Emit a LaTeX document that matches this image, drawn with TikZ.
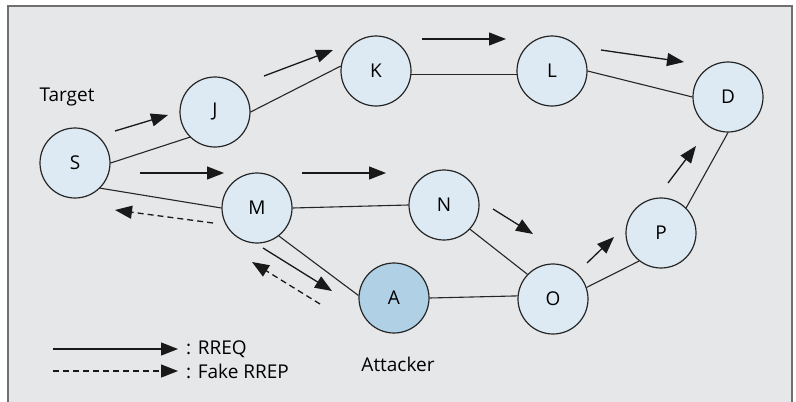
\documentclass[tikz,border=0pt]{standalone}
\usepackage{fontspec}
\setmainfont{Open Sans}
\usetikzlibrary{arrows.meta}
\definecolor{bggray}{HTML}{E6E7E9}
\definecolor{framegray}{HTML}{6E6F71}
\definecolor{nodeblue}{HTML}{DDEAF3}
\definecolor{attblue}{HTML}{B0D0E6}

\begin{document}
\begin{tikzpicture}[x=1pt,y=-1pt]
\tikzset{host/.style = {circle,draw=black!85,line width=1.2pt,fill=nodeblue,
    minimum size=70pt,inner sep=0pt,font=\fontsize{19}{22}\selectfont},
  link/.style = {line width=1.1pt,black!85},
  edge/.style = {-{Triangle[length=17pt,width=13pt]},line width=1.3pt,black!90},
  fake/.style = {edge,dash pattern=on 6pt off 4pt},
  lbl/.style = {font=\fontsize{19}{22}\selectfont}}
\useasboundingbox (0,0) rectangle (796,402);
\fill[bggray] (8,6) rectangle (792,402);
\draw[framegray,line width=2pt] (8,402) -- (8,6) -- (792,6) -- (792,402);

% hosts
\node[host] (s) at (75,163) {S};
\node[host] (j) at (215,112) {J};
\node[host] (k) at (376,71) {K};
\node[host] (l) at (552,71) {L};
\node[host] (d) at (728,97) {D};
\node[host] (m) at (257,208) {M};
\node[host] (n) at (444,205) {N};
\node[host,fill=attblue] (a) at (394,298) {A};
\node[host] (o) at (553,299) {O};
\node[host] (p) at (661,233) {P};

\node[lbl] (target) at (67,97) {Target};
\node[lbl] (attacker) at (398,364) {Attacker};

% links
\draw[link] (s.east) -- (j.225);
\draw[link] (s.-45) -- (m.west);
\draw[link] (j.east) -- (k.172);
\draw[link] (k.-5) -- (l.185);
\draw[link] (l.east) -- (d.180);
\draw[link] (m.east) -- (n.west);
\draw[link] (m.-52) -- (a.176);
\draw[link] (a.east) -- (o.175);
\draw[link] (n.-43) -- (o.136);
\draw[link] (o.19) -- (p.232);
\draw[link] (p.45) -- (d.south);

% RREQ and fake RREP
\coordinate (sj1) at (115,131); \coordinate (sj2) at (168,115);
\coordinate (jk1) at (264,76);  \coordinate (jk2) at (333,50);
\coordinate (kl1) at (422,39);  \coordinate (kl2) at (506,39);
\coordinate (ld1) at (601,50);  \coordinate (ld2) at (684,62);
\coordinate (sm1) at (140,173); \coordinate (sm2) at (224,173);
\coordinate (mn1) at (302,173); \coordinate (mn2) at (386,173);
\coordinate (no1) at (493,209); \coordinate (no2) at (533,234);
\coordinate (op1) at (587,263); \coordinate (op2) at (614,237);
\coordinate (pd1) at (668,183); \coordinate (pd2) at (696,146);
\coordinate (ma1) at (263,248); \coordinate (ma2) at (332,291);
\coordinate (ms1) at (213,223); \coordinate (ms2) at (115,210);
\coordinate (am1) at (320,304); \coordinate (am2) at (252,262);
\foreach \u/\v in {sj/sj,jk/jk,kl/kl,ld/ld,sm/sm,mn/mn,no/no,op/op,pd/pd,ma/ma}
  \draw[edge] (\u1) -- (\v2);
\draw[fake] (ms1) -- (ms2);
\draw[fake] (am1) -- (am2);

% legend
\coordinate (r1) at (53,349);  \coordinate (r2) at (178,349);
\coordinate (f1) at (53,371);  \coordinate (f2) at (178,371);
\draw[edge] (r1) -- (r2);
\draw[fake] (f1) -- (f2);
\node[lbl,anchor=west,inner sep=0pt] (rreq) at (186,349) {: RREQ};
\node[lbl,anchor=west,inner sep=0pt] (rrep) at (186,371) {: Fake RREP};
\end{tikzpicture}
\end{document}
